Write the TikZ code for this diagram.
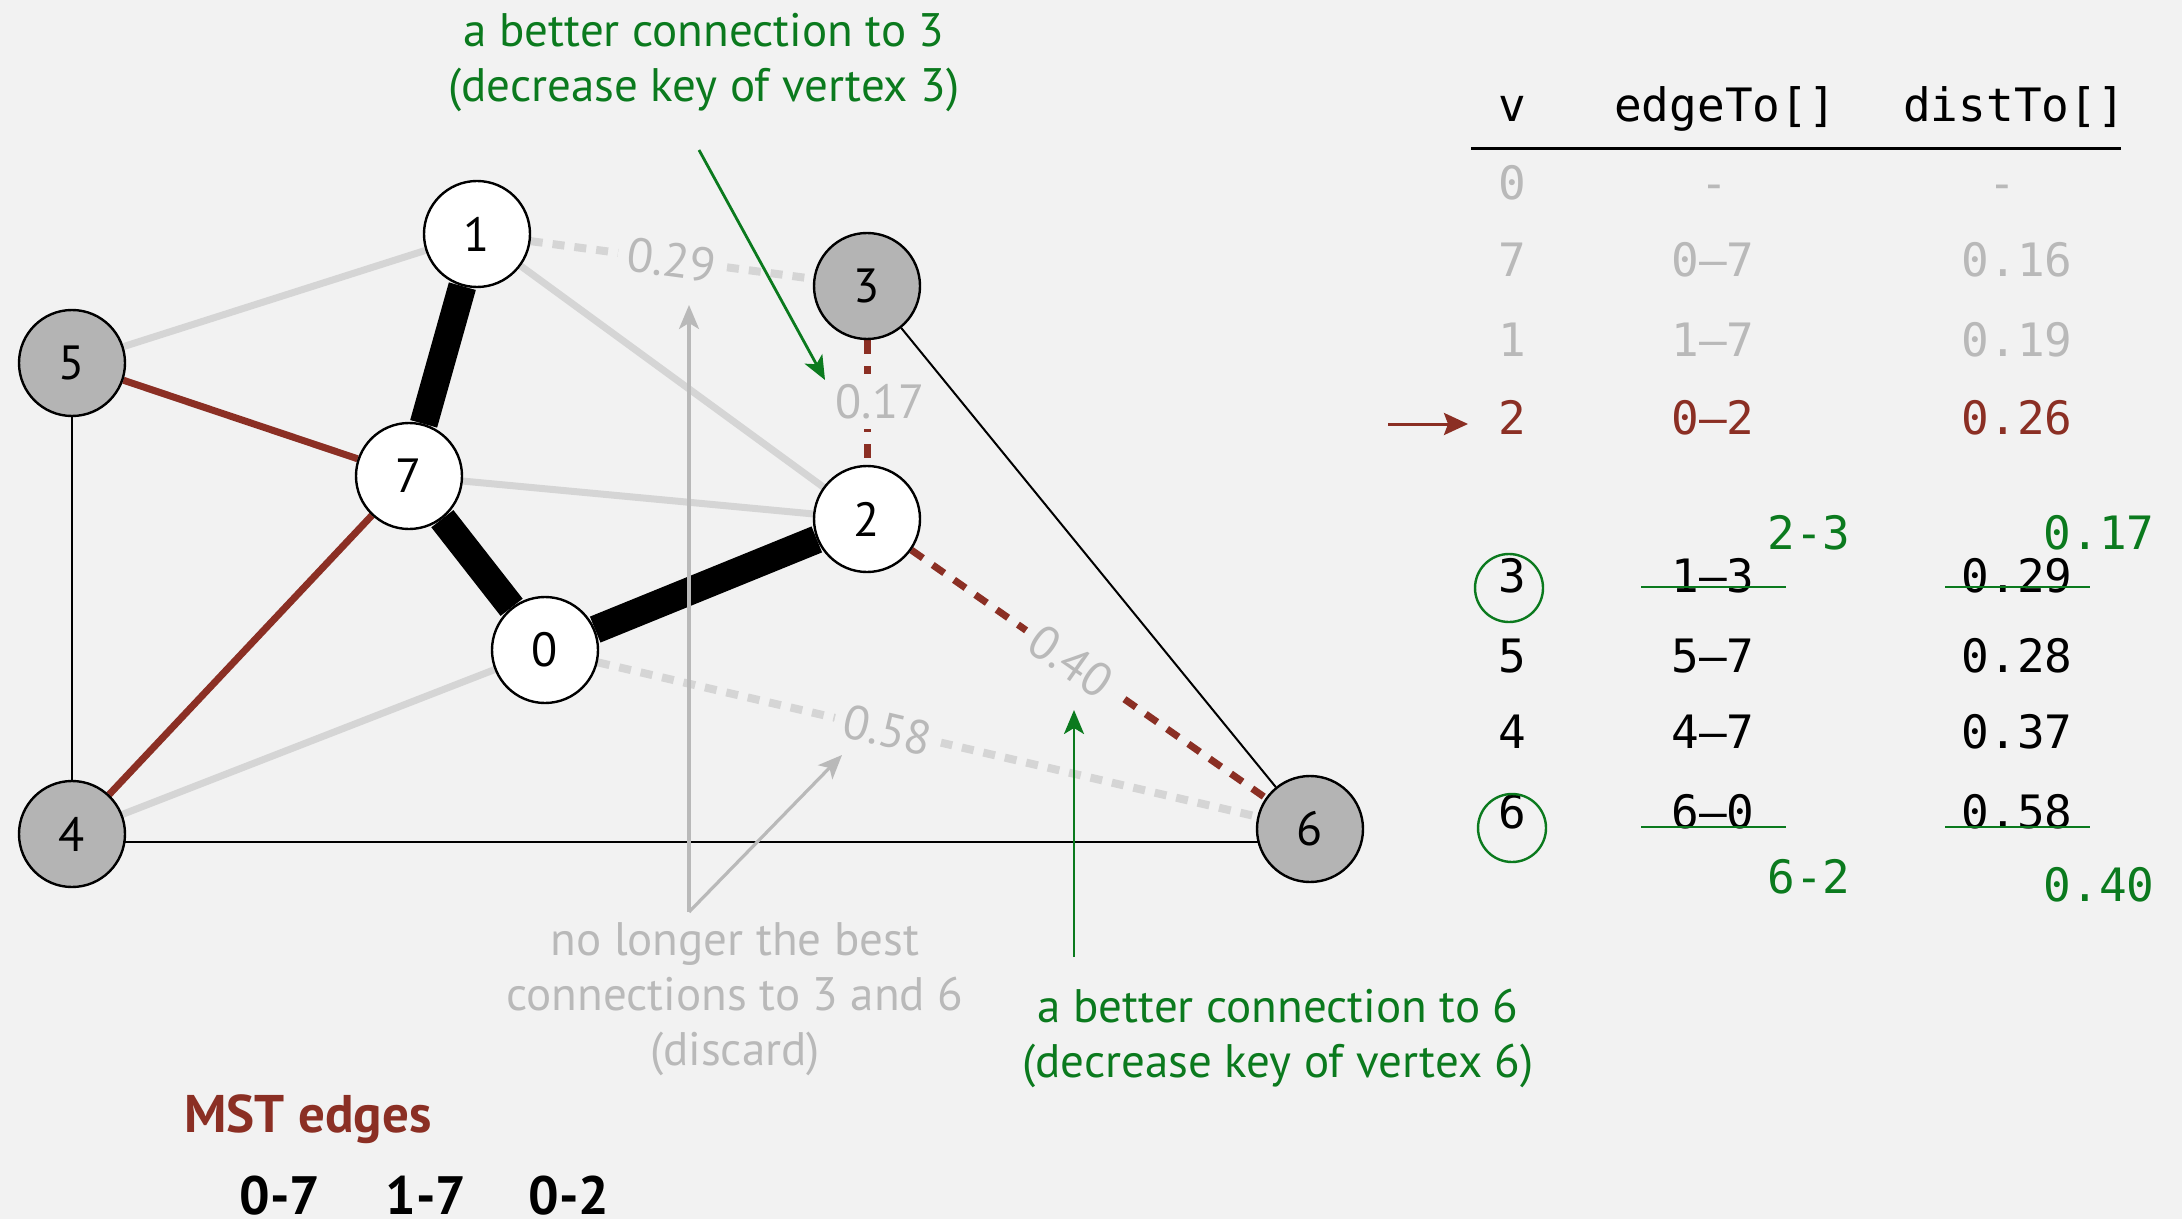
\documentclass[tikz,border=0pt]{standalone}
\usepackage{fontspec}
\setmainfont{PT Sans}
\newfontfamily\monof{DejaVu Sans Mono}
\usetikzlibrary{arrows.meta}
\definecolor{bg}{HTML}{F2F2F2}
\definecolor{edgegray}{HTML}{D5D5D5}
\definecolor{txtgray}{HTML}{B9B9B9}
\definecolor{nodegray}{HTML}{B4B4B4}
\definecolor{mstred}{HTML}{8B2F24}
\definecolor{grn}{HTML}{0B7A1E}
\pgfdeclarelayer{bgl}
\pgfdeclarelayer{edgel}
\pgfsetlayers{bgl,edgel,main}
\begin{document}
\begin{tikzpicture}[x=0.5pt,y=-0.5pt,
  vtx/.style={circle, draw=black, line width=1.2pt, fill=white, minimum size=53pt, inner sep=0pt, font=\fontsize{24}{24}\selectfont},
  vgray/.style={vtx, fill=nodegray},
  treeedge/.style={black, line width=14pt},
  mstedge/.style={mstred, line width=3.5pt},
  thinedge/.style={black, line width=1pt},
  grayedge/.style={edgegray, line width=3.5pt},
  graydash/.style={edgegray, line width=4pt, dash pattern=on 6pt off 5pt},
  reddash/.style={mstred, line width=3.5pt, dash pattern=on 7pt off 6pt},
  wlabel/.style={txtgray, fill=bg, inner sep=5pt, font=\fontsize{24}{24}\selectfont},
  gnote/.style={grn, anchor=base, inner sep=0pt, font=\fontsize{23.5}{28}\selectfont},
  graynote/.style={txtgray, anchor=base, inner sep=0pt, font=\fontsize{23.5}{28}\selectfont},
  garrow/.style={grn, line width=1.4pt, -{Stealth[length=12pt,width=10pt,inset=3pt]}},
  grarrow/.style={txtgray, line width=1.6pt, -{Stealth[length=12pt,width=10pt,inset=3pt]}},
  tcell/.style={anchor=base, inner sep=0pt, font=\monof\fontsize{23}{23}\selectfont},
  tgray/.style={tcell, txtgray},
  tred/.style={tcell, mstred},
  tgrn/.style={tcell, grn},
  strike/.style={grn, line width=1.2pt},
  gcirc/.style={circle, draw=grn, line width=1.2pt, minimum size=34pt, inner sep=0pt},
  bnum/.style={anchor=base, inner sep=0pt, font=\bfseries\fontsize{27}{27}\selectfont}
]
\begin{pgfonlayer}{bgl}
\fill[bg] (0,0) rectangle (2182,1219);
\end{pgfonlayer}
\useasboundingbox (0,0) rectangle (2182,1219);

% vertices
\node[vtx]   (n0) at (545,650) {0};
\node[vtx]   (n1) at (477,234) {1};
\node[vtx]   (n2) at (867,519) {2};
\node[vgray] (n3) at (867,286) {3};
\node[vgray] (n4) at (72,834) {4};
\node[vgray] (n5) at (72,363) {5};
\node[vgray] (n6) at (1310,829) {6};
\node[vtx]   (n7) at (409,476) {7};

\begin{pgfonlayer}{edgel}
\draw[grayedge] (n5) -- (n1);
\draw[grayedge] (n1) -- (n2);
\draw[grayedge] (n7) -- (n2);
\draw[grayedge] (n4) -- (n0);
\draw[thinedge] (n5) -- (n4);
\draw[thinedge] ([yshift=-4pt]n4.center) -- ([yshift=-6.5pt]n6.center);
\draw[thinedge] (n3) -- (n6);
\draw[mstedge] (n5) -- (n7);
\draw[mstedge] (n7) -- (n4);
\draw[treeedge] (n1) -- (n7);
\draw[treeedge] (n7) -- (n0);
\draw[treeedge] (n0) -- (n2);
\draw[graydash] (n1) -- node[wlabel, pos=0.5, rotate=-7.6] (w13) {0.29} (n3);
\draw[graydash] (n0) -- node[wlabel, pos=0.44, rotate=-13.2] (w06) {0.58} (n6);
\draw[reddash] (n3) -- node[wlabel, pos=0.49, xshift=6.5pt] (w32) {0.17} (n2);
\draw[reddash] (n2) -- node[wlabel, pos=0.45, rotate=-35] (w26) {0.40} (n6);
\end{pgfonlayer}

% green annotations
\node[gnote] (t3a) at (704,47) {a better connection to 3};
\node[gnote] (t3b) at (704,102) {(decrease key of vertex 3)};
\coordinate (ga1s) at (699,150);
\coordinate (ga1e) at (825,380);
\draw[garrow] (ga1s) -- (ga1e);

\node[gnote] (t6a) at (1278,1022) {a better connection to 6};
\node[gnote] (t6b) at (1278,1077) {(decrease key of vertex 6)};
\coordinate (ga2s) at (1074,957);
\coordinate (ga2e) at (1074,710);
\draw[garrow] (ga2s) -- (ga2e);

% gray annotations
\node[graynote] (d1) at (735,955) {no longer the best};
\node[graynote] (d2) at (735,1010) {connections to 3 and 6};
\node[graynote] (d3) at (735,1065) {(discard)};
\coordinate (gsrc) at (689,912);
\coordinate (gv) at (689,305);
\coordinate (gd) at (842,755);
\draw[grarrow] (gsrc) -- (gv);
\draw[grarrow] (gsrc) -- (gd);

% MST edges
\node[anchor=base west, inner sep=0pt, text=mstred, font=\bfseries\fontsize{26.5}{27}\selectfont] (mst) at (184,1132) {MST edges};
\node[bnum] (m1) at (280,1214) {0-7};
\node[bnum] (m2) at (426,1214) {1-7};
\node[bnum] (m3) at (569,1214) {0-2};

% table
\node[tcell] (hv) at (1512,122) {v};
\node[tcell] (he) at (1725,122) {edgeTo[]};
\node[tcell] (hd) at (2014,122) {distTo[]};
\coordinate (rl) at (1471,149);
\coordinate (rr) at (2121,149);
\draw[black, line width=1.5pt] (rl) -- (rr);

\node[tgray] (r0v) at (1512,200) {0};
\node[tgray] (r0e) at (1714,200) {-};
\node[tgray] (r0d) at (2002,200) {-};
\node[tgray] (r7v) at (1512,277) {7};
\node[tgray] (r7e) at (1713,277) {0–7};
\node[tgray] (r7d) at (2017,277) {0.16};
\node[tgray] (r1v) at (1512,357) {1};
\node[tgray] (r1e) at (1713,357) {1–7};
\node[tgray] (r1d) at (2017,357) {0.19};
\node[tred] (r2v) at (1512,434) {2};
\node[tred] (r2e) at (1713,434) {0–2};
\node[tred] (r2d) at (2017,434) {0.26};
\coordinate (ras) at (1388,424);
\coordinate (rae) at (1468,424);
\draw[mstred, line width=1.5pt, -{Stealth[length=12pt,width=11pt,inset=2pt]}] (ras) -- (rae);

\node[tgrn] (g23) at (1809,549) {2-3};
\node[tgrn] (g017) at (2099,549) {0.17};
\node[tcell] (r3v) at (1512,592) {3};
\node[tcell] (r3e) at (1713,592) {1–3};
\node[tcell] (r3d) at (2017,592) {0.29};
\node[tcell] (r5v) at (1512,672) {5};
\node[tcell] (r5e) at (1713,672) {5–7};
\node[tcell] (r5d) at (2017,672) {0.28};
\node[tcell] (r4v) at (1512,748) {4};
\node[tcell] (r4e) at (1713,748) {4–7};
\node[tcell] (r4d) at (2017,748) {0.37};
\node[tcell] (r6v) at (1512,828) {6};
\node[tcell] (r6e) at (1713,828) {6–0};
\node[tcell] (r6d) at (2017,828) {0.58};
\node[tgrn] (g62) at (1809,893) {6-2};
\node[tgrn] (g040) at (2099,901) {0.40};

\node[gcirc] (c3) at (1509,588) {};
\node[gcirc] (c6) at (1512,828) {};
\draw[strike] (1641,587) -- (1786,587);
\draw[strike] (1945,587) -- (2090,587);
\draw[strike] (1641,827) -- (1786,827);
\draw[strike] (1945,827) -- (2090,827);
\end{tikzpicture}
\end{document}
